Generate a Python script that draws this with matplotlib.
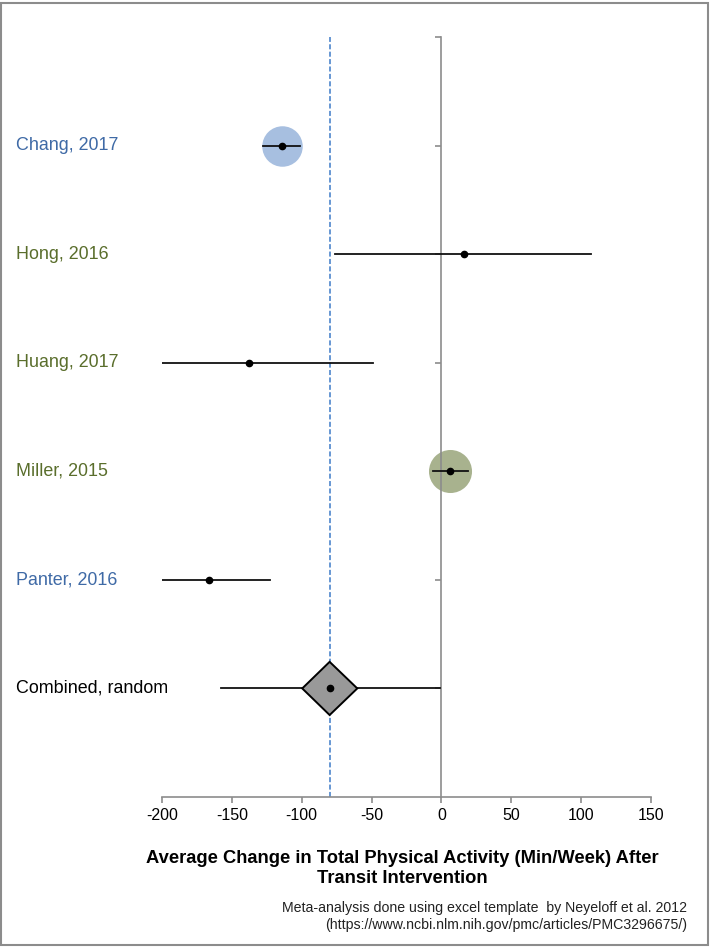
import matplotlib.pyplot as plt
from matplotlib.patches import Polygon, Rectangle
import matplotlib.transforms as mtransforms

plt.rcParams['font.family'] = ['Liberation Sans', 'DejaVu Sans']

# study data (min/week)
studies = ['Chang, 2017', 'Hong, 2016', 'Huang, 2017', 'Miller, 2015', 'Panter, 2016']
effect = [-114, 16, -138, 6, -166]
ci_low = [-128, -76, -200, -6, -200]
ci_high = [-101, 107, -49, 19, -123]
weight = [850, 12, 12, 960, 12]
bubble_col = ['#a7bfe0', '#a8b28e', '#a8b28e', '#a8b28e', '#a7bfe0']
label_col = ['#3f6aa6', '#5a6e2c', '#5a6e2c', '#5a6e2c', '#3f6aa6']
rows = [6, 5, 4, 3, 2]

# pooled estimate
comb_label = 'Combined, random'
comb_effect = -80
comb_ci = (-158, -1)
comb_box = (-99.6, -60.2)
comb_row = 1

xticks = [-200, -150, -100, -50, 0, 50, 100, 150]

fig = plt.figure(figsize=(7.11, 9.47), dpi=100)
ax = fig.add_axes([0.2278, 0.1584, 0.6878, 0.8025])
ax.set_xlim(-200, 150)
ax.set_ylim(0, 7)

for sp in ['top', 'right']:
    ax.spines[sp].set_visible(False)
ax.spines['left'].set_position(('data', 0))
ax.spines['left'].set_color('#8c8c8c')
ax.spines['left'].set_linewidth(1.2)
ax.spines['bottom'].set_color('#8c8c8c')
ax.spines['bottom'].set_linewidth(1.2)
ax.set_yticks(range(1, 8))
ax.set_yticklabels([])
ax.tick_params(axis='y', length=4, color='#8c8c8c', width=1.2)
ax.set_xticks(xticks)
ax.set_xticklabels([str(t) for t in xticks], fontsize=11.5)
ax.tick_params(axis='x', length=4, color='#8c8c8c', width=1.2, pad=4)

# summary line
ax.axvline(comb_effect, color='#5b8fd0', lw=1.3, ls=(0, (2.8, 1.3)), zorder=1)

trans = mtransforms.blended_transform_factory(fig.transFigure, ax.transData)
for i in range(len(studies)):
    y = rows[i]
    ax.scatter(effect[i], y, s=weight[i], color=bubble_col[i], zorder=2, lw=0)
    ax.plot([ci_low[i], ci_high[i]], [y, y], color='#111111', lw=1.3, zorder=3)
    ax.plot(effect[i], y, 'o', color='black', ms=4.5, zorder=4)
    ax.text(0.0225, y, studies[i], transform=trans, fontsize=12.9, color=label_col[i],
            va='center', ha='left')

ax.plot(comb_ci, [comb_row, comb_row], color='#111111', lw=1.3, zorder=3)
dh = 0.245
diamond = Polygon([[comb_box[0], comb_row], [comb_effect, comb_row + dh],
                   [comb_box[1], comb_row], [comb_effect, comb_row - dh]],
                  closed=True, facecolor='#999999', edgecolor='black', lw=1.4, zorder=4)
ax.add_patch(diamond)
ax.plot(comb_effect, comb_row, 'o', color='black', ms=4.5, zorder=5)
ax.text(0.0225, comb_row, comb_label, transform=trans, fontsize=12.9, color='black',
        va='center', ha='left')

fig.text(0.566, 0.0825, 'Average Change in Total Physical Activity (Min/Week) After\nTransit Intervention',
         ha='center', va='center', fontsize=13.2, fontweight='bold', linespacing=1.25)
fig.text(0.966, 0.032, 'Meta-analysis done using excel template  by Neyeloff et al. 2012\n'
         '(https://www.ncbi.nlm.nih.gov/pmc/articles/PMC3296675/)',
         ha='right', va='center', fontsize=10.2, color='#222222', linespacing=1.3)

fig.add_artist(Rectangle((0.002, 0.002), 0.994, 0.995, transform=fig.transFigure,
                         fill=False, edgecolor='#8c8c8c', lw=1.5))

plt.savefig('out.png', dpi=100)
